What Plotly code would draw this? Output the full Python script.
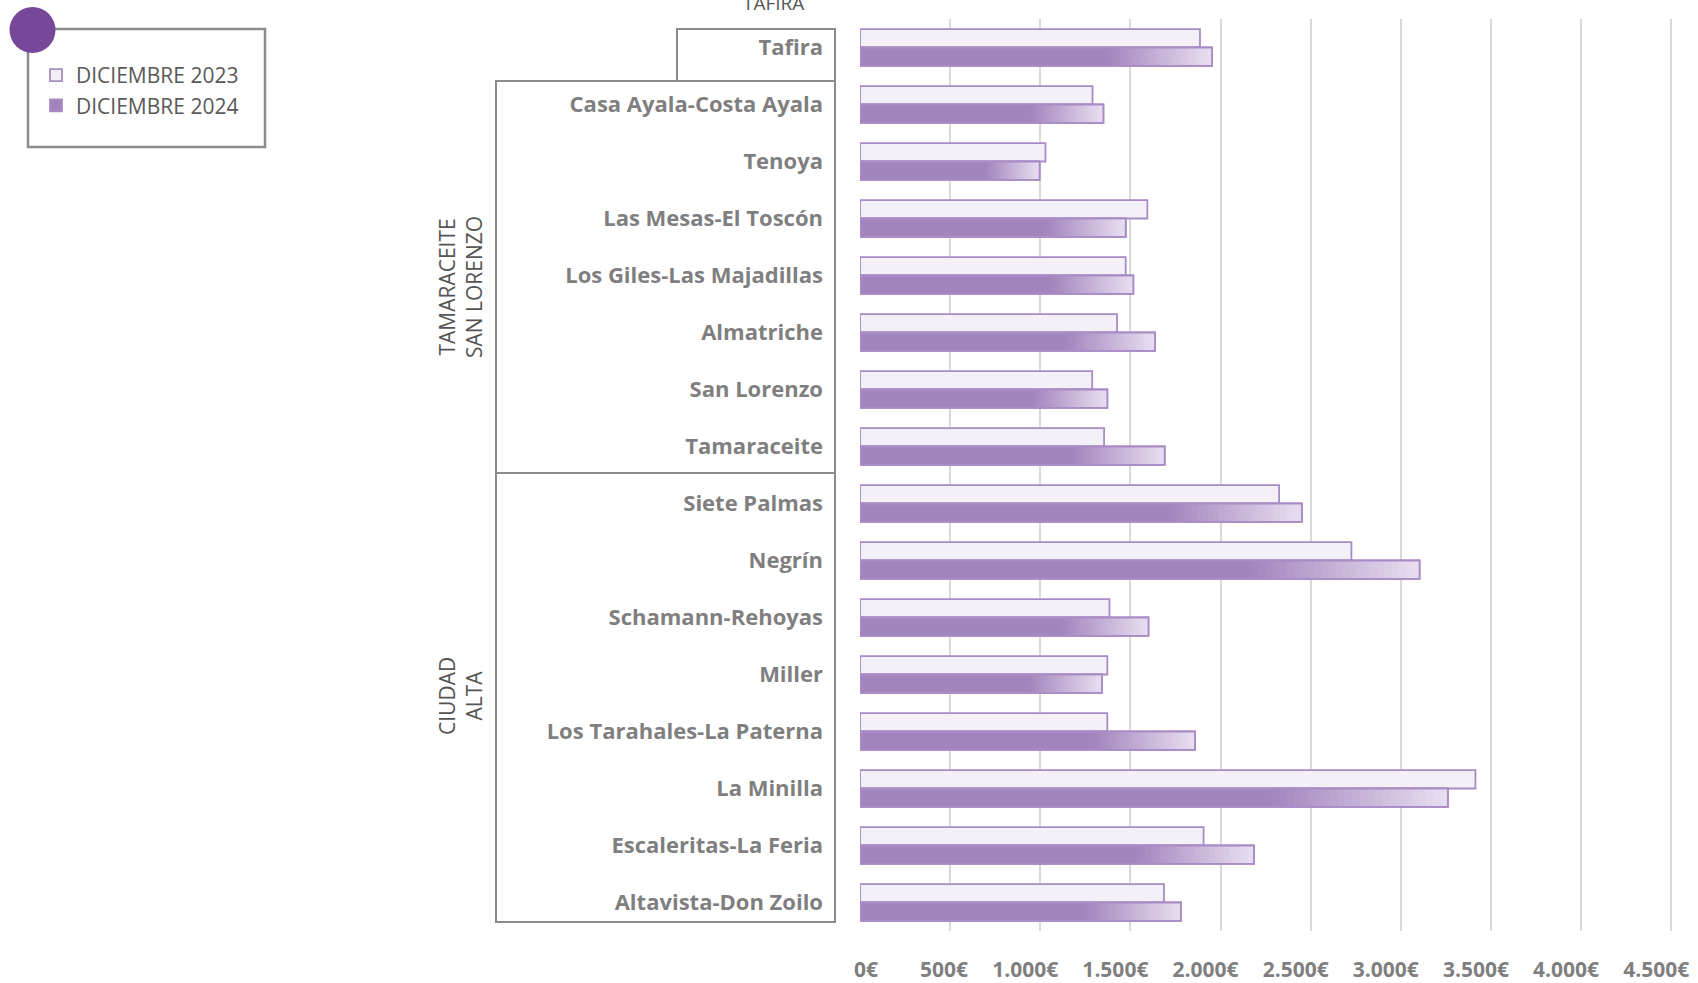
import plotly.graph_objects as go

categories = ["Tafira", "Casa Ayala-Costa Ayala", "Tenoya", "Las Mesas-El Toscón",
              "Los Giles-Las Majadillas", "Almatriche", "San Lorenzo", "Tamaraceite",
              "Siete Palmas", "Negrín", "Schamann-Rehoyas", "Miller",
              "Los Tarahales-La Paterna", "La Minilla", "Escaleritas-La Feria", "Altavista-Don Zoilo"]
v2023 = [1886, 1290, 1029, 1594, 1474, 1426, 1288, 1354, 2325, 2726, 1384, 1372, 1372, 3414, 1906, 1686]
v2024 = [1953, 1350, 996, 1474, 1516, 1636, 1372, 1690, 2451, 3104, 1600, 1342, 1858, 3261, 2185, 1780]
series_names = ["DICIEMBRE 2023", "DICIEMBRE 2024"]
tick_vals = [0, 500, 1000, 1500, 2000, 2500, 3000, 3500, 4000, 4500]
tick_text = ["0€", "500€", "1.000€", "1.500€", "2.000€", "2.500€", "3.000€", "3.500€", "4.000€", "4.500€"]
groups = ["TAFIRA", "TAMARACEITE<br>SAN LORENZO", "CIUDAD<br>ALTA"]

W, H = 1698, 983
L, R, T, B = 860, 25, 19, 52
PW, PH = W - L - R, H - T - B

def px(x):
    return (x - L) / PW

def py(y):
    return 1 - (y - T) / PH

BW = 0.323
EDGE = "#A98BC6"
FONT = "Open Sans"

fig = go.Figure()
fig.add_trace(go.Bar(y=categories, x=v2023, orientation="h", name=series_names[0],
                     offset=-BW, width=BW, marker=dict(color="#F3F0F7", line=dict(color=EDGE, width=1.8))))
fig.add_trace(go.Bar(y=categories, x=v2024, orientation="h", name=series_names[1],
                     offset=0, width=BW, marker=dict(color="#A385BD", line=dict(color=EDGE, width=1.8))))

# gradient at right end of 2024 bars (layered, each segment runs to the bar end)
n = 24
c0 = (163, 133, 189)
c1 = (232, 223, 241)
start = 0.70
for i in range(n):
    f0 = start + (1 - start) * i / n
    t = (i + 0.5) / n
    col = "rgb(%d,%d,%d)" % tuple(round(a + (b - a) * t) for a, b in zip(c0, c1))
    fig.add_trace(go.Bar(y=categories, x=[v * (1 - f0) for v in v2024], base=[v * f0 for v in v2024],
                         orientation="h", offset=0, width=BW, showlegend=False, hoverinfo="skip",
                         marker=dict(color=col, line=dict(width=0))))
fig.add_trace(go.Bar(y=categories, x=v2024, orientation="h", offset=0, width=BW, showlegend=False,
                     hoverinfo="skip", marker=dict(color="rgba(0,0,0,0)", line=dict(color=EDGE, width=1.8))))

shapes = []
for (x0, y0, x1, y1) in [(677, 29, 835, 81), (496, 81, 835, 473), (496, 473, 835, 922)]:
    shapes.append(dict(type="rect", xref="paper", yref="paper", x0=px(x0), x1=px(x1), y0=py(y1), y1=py(y0),
                       line=dict(color="#8C8C8C", width=2)))
shapes.append(dict(type="rect", xref="paper", yref="paper", x0=px(28), x1=px(265), y0=py(147), y1=py(29),
                   line=dict(color="#8C8C8C", width=2.5)))
shapes.append(dict(type="circle", xref="paper", yref="paper", x0=px(9.5), x1=px(55.5), y0=py(53), y1=py(7),
                   fillcolor="#77479A", line=dict(width=0)))

gfont = dict(family=FONT, size=21, color="#555555")
annotations = [
    dict(text=groups[0], xref="paper", yref="paper", x=px(773), y=py(3), showarrow=False,
         xanchor="center", yanchor="middle", font=dict(family=FONT, size=19, color="#555555")),
    dict(text=groups[1], xref="paper", yref="paper", x=px(460), y=py(287), showarrow=False, textangle=-90,
         xanchor="center", yanchor="middle", font=gfont),
    dict(text=groups[2], xref="paper", yref="paper", x=px(460), y=py(696), showarrow=False, textangle=-90,
         xanchor="center", yanchor="middle", font=gfont),
]

fig.update_layout(
    width=W, height=H, margin=dict(l=L, r=R, t=T, b=B, autoexpand=False),
    barmode="overlay", plot_bgcolor="white", paper_bgcolor="white",
    shapes=shapes, annotations=annotations,
    legend=dict(x=px(36), y=py(55), xanchor="left", yanchor="top", bgcolor="rgba(0,0,0,0)",
                font=dict(family=FONT, size=21, color="#595959", weight=500), itemwidth=30),
    xaxis=dict(range=[0, 4510], tickvals=tick_vals, ticktext=tick_text, showgrid=True,
               gridcolor="#D9D9D9", gridwidth=1.6, zeroline=False, showline=False, automargin=False,
               tickfont=dict(family=FONT, size=21, color="#7F7F7F", weight="bold"),
               ticklabelposition="outside left", ticklabelstandoff=24, ticklabelshift=18,
               ticklabeloverflow="allow", fixedrange=True),
    yaxis=dict(categoryorder="array", categoryarray=categories, autorange="reversed", automargin=False,
               showgrid=False, zeroline=False, showline=False, ticks="",
               tickfont=dict(family=FONT, size=22, color="#7F7F7F", weight="bold"),
               ticklabelstandoff=36),
)

fig.write_html("out.html", post_script="document.body.style.margin='0';",
               config={"displayModeBar": False})
